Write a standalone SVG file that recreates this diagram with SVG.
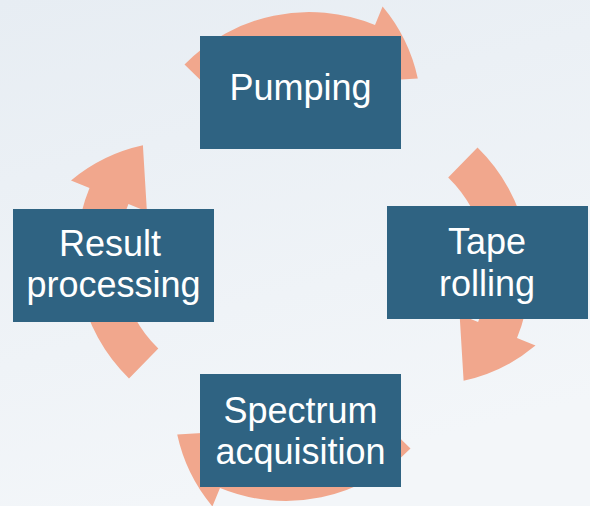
<svg xmlns="http://www.w3.org/2000/svg" width="590" height="506" viewBox="0 0 590 506">
<style>
.box{fill:#2F6382}
.lbl{fill:#FFFFFF;font-family:"Liberation Sans",Arial,sans-serif;font-size:36px;text-anchor:middle}
.arc{fill:#F1A78D}
</style>
<defs>
<linearGradient id="bg" x1="0" y1="0" x2="0.3" y2="1">
<stop offset="0" stop-color="#E7EDF3"/>
<stop offset="1" stop-color="#F3F6F9"/>
</linearGradient>
<path id="ca" d="M121.5,-124.5 A174,174 0 0 1 161,66 L179.5,73.6 Q148,100 107.6,108.8 L103.6,42.5 L122.1,50.1 A132,132 0 0 0 92.2,-94.5 Z"/>
</defs>
<rect width="590" height="506" fill="url(#bg)"/>
<g id="connectors">
<use href="#ca" class="arc" transform="translate(309,186) rotate(-90)"/>
<use href="#ca" class="arc" transform="translate(356,272)"/>
<use href="#ca" class="arc" transform="translate(286,327) rotate(90)"/>
<use href="#ca" class="arc" transform="translate(250.5,254) rotate(180)"/>
</g>
<g id="pumping">
<rect class="box" x="200" y="36" width="201" height="113"/>
<text class="lbl" x="300.5" y="100">Pumping</text>
</g>
<g id="tape-rolling">
<rect class="box" x="387" y="206" width="201" height="113"/>
<text class="lbl" x="487" y="254">Tape</text>
<text class="lbl" x="487" y="296">rolling</text>
</g>
<g id="spectrum-acquisition">
<rect class="box" x="200" y="374" width="201" height="113"/>
<text class="lbl" x="300.5" y="423">Spectrum</text>
<text class="lbl" x="300.5" y="464">acquisition</text>
</g>
<g id="result-processing">
<rect class="box" x="13" y="209" width="201" height="113"/>
<text class="lbl" x="110" y="256">Result</text>
<text class="lbl" x="113.5" y="297">processing</text>
</g>
</svg>
